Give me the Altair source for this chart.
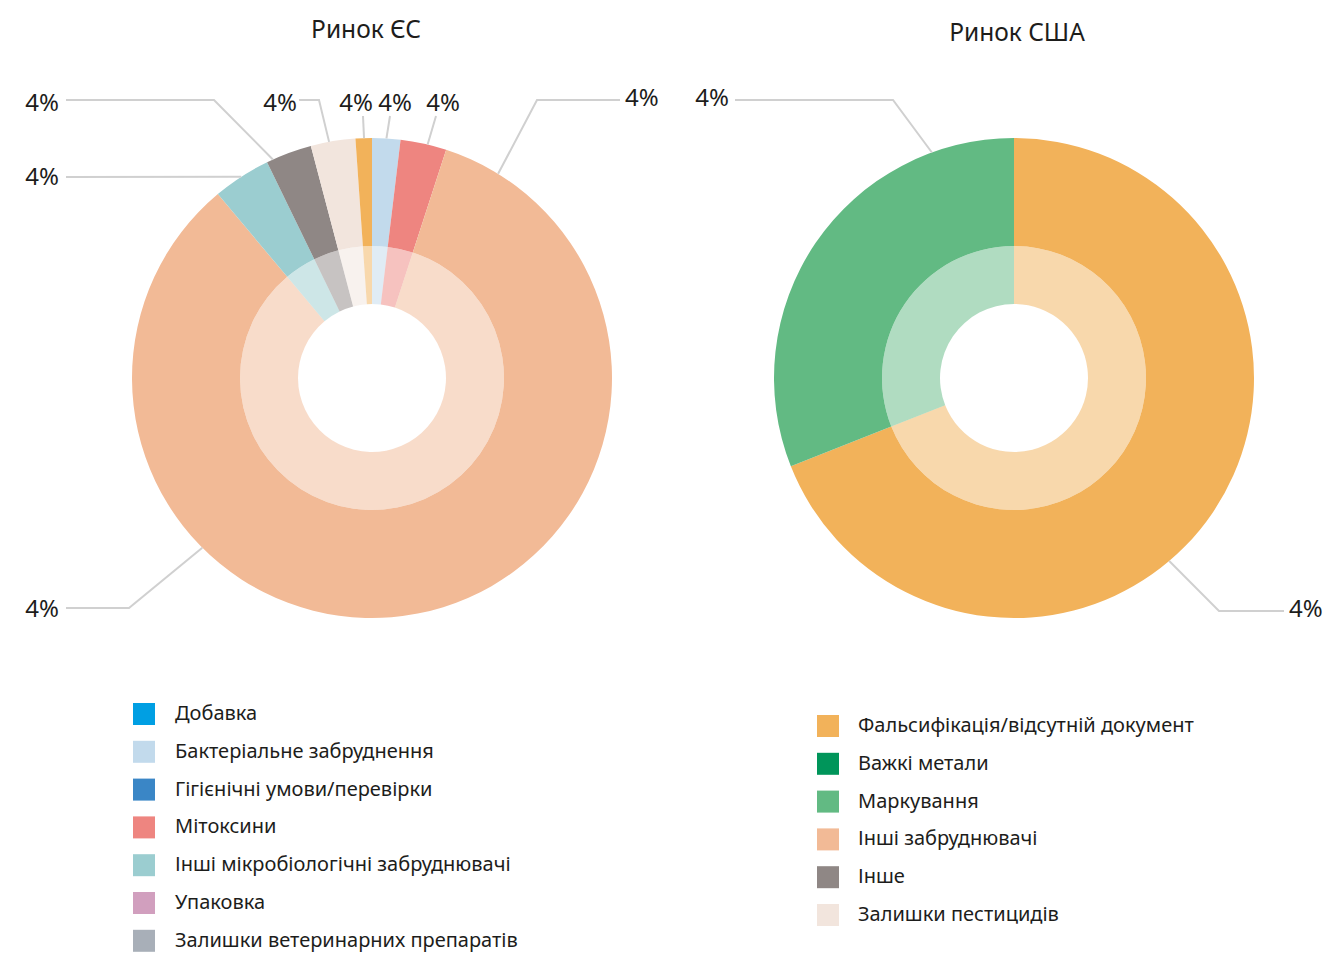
import math
import altair as alt
import pandas as pd

# ---------------- data ----------------
categories = [
    "Добавка", "Бактеріальне забруднення", "Гігієнічні умови/перевірки", "Мітоксини",
    "Інші мікробіологічні забруднювачі", "Упаковка", "Залишки ветеринарних препаратів",
    "Фальсифікація/відсутній документ", "Важкі метали", "Маркування",
    "Інші забруднювачі", "Інше", "Залишки пестицидів",
]
colors = [
    "#009FE3", "#C2DAEC", "#3A86C6", "#EE8580", "#9BCDD0", "#D19FBE", "#A8AFB8",
    "#F2B25A", "#00955A", "#62BA83", "#F2BA96", "#8F8785", "#F2E5DD",
]
legend_left = categories[:7]
legend_right = categories[7:]

titles = ["Ринок ЄС", "Ринок США"]

# EU market: slices clockwise from 12 o'clock (percent)
eu_cats = ["Бактеріальне забруднення", "Мітоксини", "Інші забруднювачі",
           "Інші мікробіологічні забруднювачі", "Інше", "Залишки пестицидів",
           "Фальсифікація/відсутній документ"]
eu_vals = [1.9, 3.1, 83.9, 3.9, 3.1, 3.0, 1.1]

# US market
us_cats = ["Фальсифікація/відсутній документ", "Маркування"]
us_vals = [69.0, 31.0]

# data labels as printed on the chart
eu_labels = ["4%"] * 8
us_labels = ["4%"] * 2

# ---------------- layout ----------------
W, H = 1316, 946
FONT = "Noto Sans"
TXT = "#1d1d1b"
centers = {"EU": (372, 378), "US": (1014, 378)}
R_OUT, R_MID, R_IN = 240, 132, 74

xs = alt.Scale(domain=[8, 8 + W], nice=False, zero=False)
ys = alt.Scale(domain=[8, 8 + H], nice=False, zero=False, reverse=True)
X = lambda f: alt.X(f, scale=xs, axis=None)
Y = lambda f: alt.Y(f, scale=ys, axis=None)
cscale = alt.Scale(domain=categories, range=colors)

# arcs table
rows = []
for mk, cats, vals in (("EU", eu_cats, eu_vals), ("US", us_cats, us_vals)):
    acc = 0.0
    for c, v in zip(cats, vals):
        rows.append({"market": mk, "cat": c, "val": v, "t0": acc, "t1": acc + v,
                     "px": centers[mk][0], "py": centers[mk][1]})
        acc += v
arcs = pd.DataFrame(rows)

theta = alt.Theta("t0:Q", scale=alt.Scale(domain=[0, 100], range=[0, 2 * math.pi]))
arc_enc = dict(x=X("px:Q"), y=Y("py:Q"), theta=theta, theta2="t1:Q",
               color=alt.Color("cat:N", scale=cscale, legend=None))

outer = alt.Chart(arcs).mark_arc(radius=R_OUT, radius2=R_MID).encode(**arc_enc)
inner = alt.Chart(arcs).mark_arc(radius=R_MID, radius2=R_IN, opacity=0.5).encode(**arc_enc)

# leader lines: (market, anchor angle on outer edge, path points from label side)
leaders = [
    ("EU", 335.6, [(66, 100), (214, 100)]),
    ("EU", 327.0, [(66, 177)]),
    ("EU", 349.7, [(299, 100), (319, 100)]),
    ("EU", 358.1, [(363, 116)]),
    ("EU", 3.45, [(390, 116)]),
    ("EU", 13.4, [(436, 116)]),
    ("EU", 31.7, [(620, 100), (537, 100)]),
    ("EU", 225.0, [(66, 608), (129, 608)]),
    ("US", 340.0, [(735, 100), (893, 100)]),
    ("US", 139.7, [(1284, 611), (1219, 611)]),
]
lrows = []
for i, (mk, ang, pts) in enumerate(leaders):
    cx, cy = centers[mk]
    a = math.radians(ang)
    allpts = pts + [(cx + R_OUT * math.sin(a), cy - R_OUT * math.cos(a))]
    for j, (px, py) in enumerate(allpts):
        lrows.append({"id": i, "o": j, "px": px, "py": py})
lines = alt.Chart(pd.DataFrame(lrows)).mark_line(color="#D0D0D0", strokeWidth=2).encode(
    x=X("px:Q"), y=Y("py:Q"), detail="id:N", order="o:Q")

label_pos = [(59, 104, "right"), (59, 178, "right"), (297, 104, "right"), (356, 104, "center"),
             (395, 104, "center"), (443, 104, "center"), (625, 99, "left"), (59, 610, "right"),
             (729, 99, "right"), (1289, 610, "left")]
lab_texts = eu_labels + us_labels
labdf = pd.DataFrame([{"px": p[0], "py": p[1], "al": p[2], "t": t}
                      for p, t in zip(label_pos, lab_texts)])
label_layers = []
for al in ("left", "center", "right"):
    sub = labdf[labdf.al == al]
    label_layers.append(alt.Chart(sub).mark_text(
        align=al, baseline="middle", font=FONT, fontSize=24, color=TXT).encode(
        x=X("px:Q"), y=Y("py:Q"), text="t:N"))

tdf = pd.DataFrame({"px": [366, 1017], "py": [31, 34], "t": titles})
title_layer = alt.Chart(tdf).mark_text(
    align="center", baseline="middle", font=FONT, fontSize=24.5, color=TXT).encode(
    x=X("px:Q"), y=Y("py:Q"), text="t:N")

# legends
STEP = 37.8
legrows = []
for i, c in enumerate(legend_left):
    legrows.append({"cat": c, "px": 144, "py": 714 + i * STEP, "tx": 175})
for i, c in enumerate(legend_right):
    legrows.append({"cat": c, "px": 828, "py": 726 + i * STEP, "tx": 858})
legdf = pd.DataFrame(legrows)
leg_sq = alt.Chart(legdf).mark_square(size=484, opacity=1).encode(
    x=X("px:Q"), y=Y("py:Q"), color=alt.Color("cat:N", scale=cscale, legend=None))
leg_tx = alt.Chart(legdf).mark_text(
    align="left", baseline="middle", font=FONT, fontSize=20, color=TXT).encode(
    x=X("tx:Q"), y=Y("py:Q"), text="cat:N")

chart = alt.layer(outer, inner, lines, *label_layers, title_layer, leg_sq, leg_tx).properties(
    width=W, height=H, autosize=alt.AutoSizeParams(type="none"), padding=0,
    background="white"
).configure_view(strokeWidth=0)

chart.save("out.html", embed_options={"renderer": "svg", "actions": False})
